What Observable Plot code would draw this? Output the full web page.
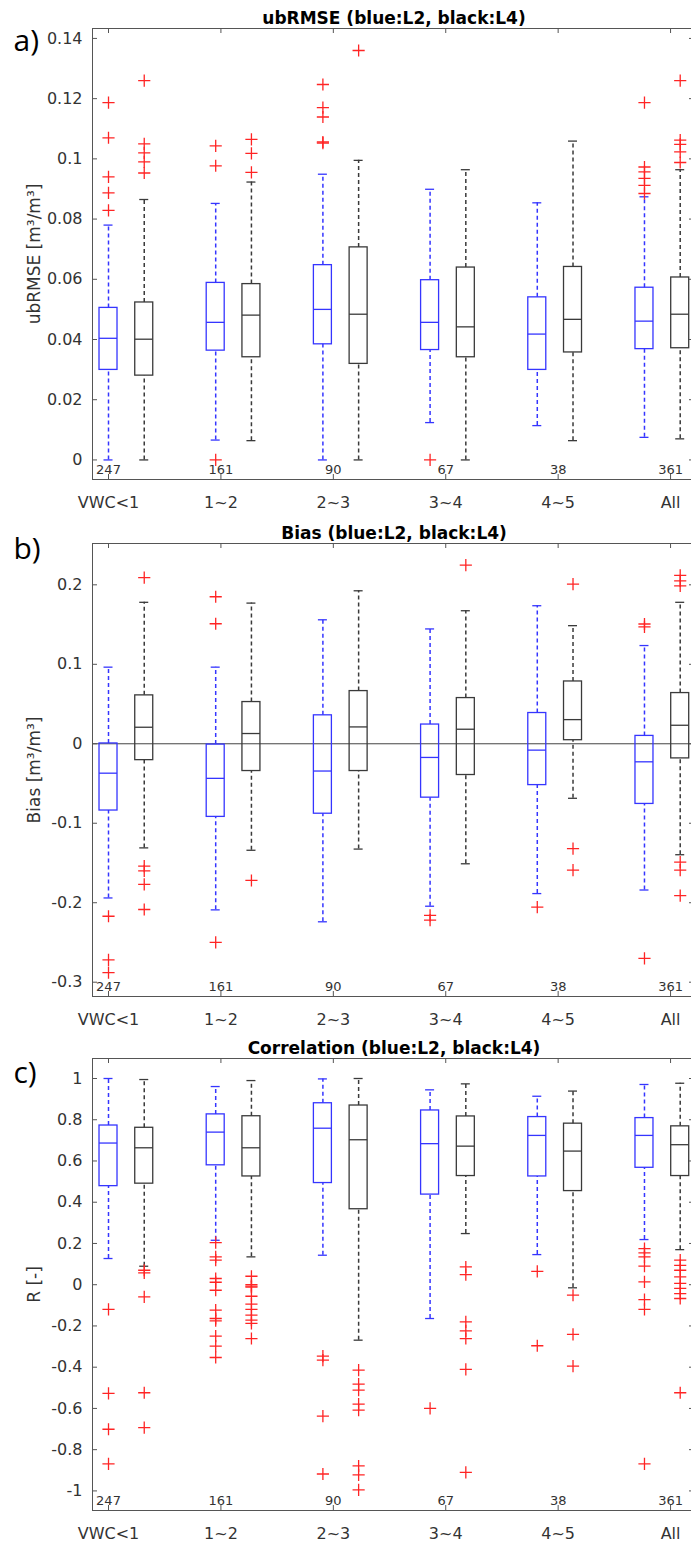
<!DOCTYPE html>
<html><head><meta charset="utf-8">
<script src="https://cdn.jsdelivr.net/npm/d3@7"></script>
<script src="https://cdn.jsdelivr.net/npm/@observablehq/plot@0.6"></script>
<style>
html,body{margin:0;padding:0;background:#fff;overflow:hidden;}
#chart svg{display:block;}
</style></head><body><div id="chart"></div>
<script>
const groups = ["VWC<1","1~2","2~3","3~4","4~5","All"];
const counts = [247,161,90,67,38,361];

// rows: [lower whisker, Q1, median, Q3, upper whisker]
const ubrmseL2 = [[0,0.0299,0.0404,0.0505,0.078],[0.0066,0.0363,0.0457,0.0588,0.0852],[0,0.0384,0.050,0.0647,0.0949],[0.0124,0.0365,0.0457,0.0597,0.0899],[0.0114,0.0299,0.0418,0.054,0.0854],[0.0075,0.0368,0.0461,0.0572,0.0874]];
const ubrmseL4 = [[0,0.028,0.0401,0.0523,0.0865],[0.0064,0.0341,0.0481,0.0584,0.0923],[0,0.0319,0.0484,0.0706,0.0995],[0,0.0341,0.0442,0.0639,0.0964],[0.0064,0.0357,0.0467,0.0641,0.1059],[0.007,0.0371,0.0484,0.0606,0.0964]];
const ubrmseL2Out = [[0.1187,0.107,0.094,0.0887,0.0829],[0.1043,0.0977,0],[0.1247,0.117,0.1139,0.1052,0.1056],[0],[],[0.1187,0.0973,0.0957,0.0935,0.0912,0.0885]];
const ubrmseL4Out = [[0.126,0.105,0.102,0.099,0.0953],[0.1065,0.1018,0.0955],[0.136],[],[],[0.126,0.1062,0.1048,0.1023,0.0988]];

const biasL2 = [[-0.194,-0.084,-0.037,0.0004,0.0964],[-0.209,-0.092,-0.0435,-0.001,0.0964],[-0.224,-0.088,-0.0343,0.0358,0.156],[-0.2044,-0.0678,-0.0172,0.0242,0.1445],[-0.1885,-0.052,-0.008,0.0387,0.1737],[-0.184,-0.0757,-0.0227,0.0099,0.1236]];
const biasL4 = [[-0.131,-0.0206,0.0208,0.0609,0.178],[-0.134,-0.0343,0.0129,0.0525,0.177],[-0.1325,-0.0343,0.0212,0.0663,0.1925],[-0.151,-0.0393,0.0183,0.0575,0.1674],[-0.0686,0.0045,0.0304,0.0784,0.1486],[-0.1396,-0.0184,0.0233,0.0638,0.178]];
const biasL2Out = [[-0.217,-0.272,-0.288],[0.185,0.151,-0.250],[],[-0.216,-0.222],[-0.2056],[0.1507,0.147,-0.270]];
const biasL4Out = [[0.209,-0.154,-0.160,-0.177,-0.2085],[-0.172],[],[0.2247],[0.2009,-0.132,-0.159],[0.212,0.205,0.1987,-0.149,-0.159,-0.191]];

const corrL2 = [[0.127,0.478,0.687,0.772,1.0],[0.2155,0.579,0.740,0.826,0.961],[0.143,0.493,0.759,0.880,0.998],[-0.164,0.437,0.684,0.845,0.945],[0.146,0.525,0.724,0.813,0.914],[0.219,0.567,0.724,0.808,0.971]];
const corrL4 = [[0.0896,0.490,0.664,0.761,0.995],[0.135,0.525,0.664,0.817,0.990],[-0.269,0.366,0.703,0.869,1.0],[0.248,0.527,0.672,0.816,0.974],[-0.015,0.454,0.648,0.781,0.939],[0.170,0.527,0.679,0.768,0.977]];
const corrL2Out = [[-0.120,-0.527,-0.701,-0.869],[0.204,0.135,0.119,0.030,0.012,-0.027,-0.123,-0.164,-0.175,-0.249,-0.298,-0.353],[-0.346,-0.366,-0.637,-0.918],[-0.600],[0.065,-0.296],[0.175,0.154,0.135,0.090,0.014,-0.072,-0.120,-0.869]];
const corrL4Out = [[0.070,0.057,-0.059,-0.524,-0.693],[0.041,0.0,-0.007,-0.012,-0.056,-0.094,-0.120,-0.148,-0.172,-0.188,-0.261],[-0.414,-0.482,-0.511,-0.579,-0.608,-0.879,-0.922,-0.995],[0.086,0.049,-0.18,-0.224,-0.261,-0.411,-0.910],[-0.051,-0.241,-0.395],[0.119,0.094,0.070,0.038,0.006,-0.018,-0.043,-0.067,-0.524]];

const ticksA = [0,0.02,0.04,0.06,0.08,0.1,0.12,0.14];
const ticksB = [-0.3,-0.2,-0.1,0,0.1,0.2];
const ticksC = [-1,-0.8,-0.6,-0.4,-0.2,0,0.2,0.4,0.6,0.8,1];

const BLUE = "#3535ff", BLACK = "#3a3a3a", RED = "#ff2424", AX = "#555";
const FONT = "'DejaVu Sans', sans-serif";
const X0 = -0.448, X1 = 16.40;
const tickPos = groups.map((g, i) => i * 3.146);
const fmt = d => String(+d.toFixed(2)).replace("−", "-");

function rowsOf(stats, offset) {
  return stats.map((s, i) => ({pos: 3 * i + offset, lo: s[0], q1: s[1], med: s[2], q3: s[3], hi: s[4]}));
}
function outsOf(outs, offset) {
  return outs.flatMap((list, i) => list.map(v => ({pos: 3 * i + offset, v})));
}

function panel(cfg) {
  const {yDomain, yTicks, title, ylabel, letter, letterDy, L2, L4, L2Out, L4Out, zero, height, marginTop, marginBottom} = cfg;
  const pxX = (694 - 92) / (X1 - X0);
  const pxY = (height - marginTop - marginBottom) / (yDomain[1] - yDomain[0]);
  const bw = 9 / pxX, cw = 4.5 / pxX, tl = 5 / pxX, tv = 5 / pxY;
  const [ymin, ymax] = yDomain;
  const marks = [];
  if (zero) marks.push(Plot.ruleY([0], {x1: X0, x2: X1, stroke: "#444", strokeWidth: 1}));
  for (const [stats, outs, off, col] of [[L2, L2Out, 0, BLUE], [L4, L4Out, 1, BLACK]]) {
    const rows = rowsOf(stats, off);
    marks.push(
      Plot.ruleX(rows, {x: "pos", y1: "q3", y2: "hi", stroke: col, strokeWidth: 1.5, strokeDasharray: "4,3"}),
      Plot.ruleX(rows, {x: "pos", y1: "lo", y2: "q1", stroke: col, strokeWidth: 1.5, strokeDasharray: "4,3"}),
      Plot.ruleY(rows, {y: "hi", x1: d => d.pos - cw, x2: d => d.pos + cw, stroke: col, strokeWidth: 1.3}),
      Plot.ruleY(rows, {y: "lo", x1: d => d.pos - cw, x2: d => d.pos + cw, stroke: col, strokeWidth: 1.3}),
      Plot.rect(rows, {x1: d => d.pos - bw, x2: d => d.pos + bw, y1: "q1", y2: "q3", stroke: col, fill: "none", strokeWidth: 1.3}),
      Plot.ruleY(rows, {y: "med", x1: d => d.pos - bw, x2: d => d.pos + bw, stroke: col, strokeWidth: 1.3}),
      Plot.dot(outsOf(outs, off), {x: "pos", y: "v", symbol: "plus", r: 4, stroke: RED, strokeWidth: 1.3})
    );
  }
  marks.push(
    Plot.ruleX([X0, X1], {x: d => d, y1: ymin, y2: ymax, stroke: AX, strokeWidth: 1}),
    Plot.ruleY([ymin, ymax], {y: d => d, x1: X0, x2: X1, stroke: AX, strokeWidth: 1}),
    Plot.ruleY(yTicks, {y: d => d, x1: X0, x2: X0 + tl, stroke: AX}),
    Plot.ruleY(yTicks, {y: d => d, x1: X1 - tl, x2: X1, stroke: AX}),
    Plot.ruleX(tickPos, {x: d => d, y1: ymin, y2: ymin + tv, stroke: AX}),
    Plot.ruleX(tickPos, {x: d => d, y1: ymax - tv, y2: ymax, stroke: AX}),
    Plot.text(yTicks, {y: d => d, text: d => fmt(d), frameAnchor: "left", dx: -10, textAnchor: "end", fontSize: 16, fill: "#333"}),
    Plot.text(groups, {x: (d, i) => tickPos[i], text: d => d, frameAnchor: "bottom", dy: 28, lineAnchor: "bottom", textAnchor: "middle", fontSize: 16, fill: "#333"}),
    Plot.text(counts, {x: (d, i) => tickPos[i], text: d => String(d), frameAnchor: "bottom", dy: -6, lineAnchor: "bottom", textAnchor: "middle", fontSize: 13, fill: "#333"}),
    Plot.text([title], {text: d => d, frameAnchor: "top", dx: 2, dy: -5, lineAnchor: "bottom", textAnchor: "middle", fontWeight: "bold", fontSize: 17, fill: "#000"}),
    Plot.text([ylabel], {text: d => d, frameAnchor: "left", dx: -58, rotate: -90, textAnchor: "middle", lineAnchor: "middle", fontSize: 17, fill: "#333"}),
    Plot.text([letter], {text: d => d, frameAnchor: "top-left", dx: -79, dy: letterDy, textAnchor: "start", lineAnchor: "bottom", fontSize: 30, fontFamily: "'Open Sans', sans-serif", fill: "#000"})
  );
  return Plot.plot({
    width: 691, height, marginLeft: 92, marginRight: 0, marginTop, marginBottom,
    style: {fontFamily: FONT, background: "#fff", overflow: "visible"},
    x: {domain: [X0, X1], range: [92, 694], axis: null},
    y: {domain: yDomain, axis: null},
    marks
  });
}

const chart = document.getElementById("chart");
chart.append(panel({yDomain: [-0.0065, 0.1433], yTicks: ticksA, title: "ubRMSE (blue:L2, black:L4)", ylabel: "ubRMSE [m³/m³]", letter: "a)", letterDy: 22, L2: ubrmseL2, L4: ubrmseL4, L2Out: ubrmseL2Out, L4Out: ubrmseL4Out, zero: false, height: 515, marginTop: 28, marginBottom: 36}));
chart.append(panel({yDomain: [-0.318, 0.252], yTicks: ticksB, title: "Bias (blue:L2, black:L4)", ylabel: "Bias [m³/m³]", letter: "b)", letterDy: 15, L2: biasL2, L4: biasL4, L2Out: biasL2Out, L4Out: biasL4Out, zero: true, height: 515, marginTop: 28, marginBottom: 34}));
chart.append(panel({yDomain: [-1.095, 1.097], yTicks: ticksC, title: "Correlation (blue:L2, black:L4)", ylabel: "R [-]", letter: "c)", letterDy: 24, L2: corrL2, L4: corrL4, L2Out: corrL2Out, L4Out: corrL4Out, zero: false, height: 512, marginTop: 28, marginBottom: 32}));
</script></body></html>
